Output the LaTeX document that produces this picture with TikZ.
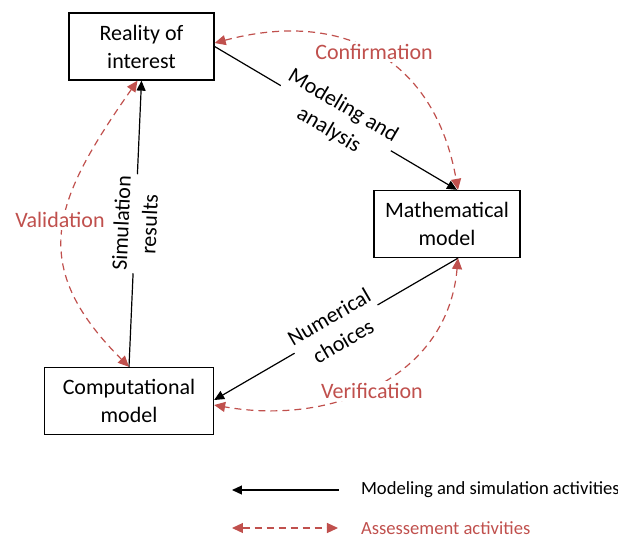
\documentclass[tikz,border=0pt]{standalone}
\usepackage{fontspec}
\setmainfont{Carlito}
\usetikzlibrary{arrows.meta}
\definecolor{assessred}{RGB}{192,80,77}

\begin{document}
\begin{tikzpicture}[x=0.5pt, y=-0.5pt, font=\fontsize{11}{14}\selectfont,
    box/.style={draw, line width=0.65pt, align=center, minimum height=33.5pt, inner sep=2pt},
    act/.style={line width=0.6pt, -{Triangle[length=5pt, width=4.5pt]}},
    assessarc/.style={draw=assessred, line width=0.6pt, dash pattern=on 3.5pt off 2.5pt,
        {Triangle[length=5.5pt, width=5pt]}-{Triangle[length=5.5pt, width=5pt]}},
    lbl/.style={sloped, fill=white, align=center, inner sep=1pt},
    assesslbl/.style={text=assessred, fill=white, inner sep=1pt}]
    \useasboundingbox (0,0) rectangle (618,538);

    % boxes
    \node[box, minimum width=72.5pt] (reality) at (141.5,46.5) {Reality of\\interest};
    \node[box, minimum width=73pt] (math) at (447,224) {Mathematical\\model};
    \node[box, minimum width=84.5pt] (comp) at (129,401) {Computational\\model};

    % modeling and simulation activities
    \draw[act] (reality.east) -- node[lbl] (modlbl) {Modeling and\\analysis} ([xshift=5pt]math.north);
    \draw[act] ([xshift=5.5pt]math.south) -- node[lbl] (numlbl) {Numerical\\choices} ([yshift=0.5pt]comp.east);
    \draw[act] (comp.north) -- node[lbl] (simlbl) {Simulation\\results} (reality.south);

    % assessment activities
    \draw[assessarc] ([yshift=1.75pt]reality.east) to[out=15, in=100, looseness=1.2] ([xshift=5.5pt]math.north);
    \draw[assessarc] ([xshift=-2pt]reality.south) to[out=235, in=135, looseness=1.3] (comp.north);
    \draw[assessarc] ([xshift=5.5pt]math.south) to[out=265, in=-10, looseness=1.08] ([yshift=-2pt]comp.east);
    \node[assesslbl] (conf) at (374,52) {Confirmation};
    \node[assesslbl] (valid) at (60,220) {Validation};
    \node[assesslbl] (verif) at (372,391) {Verification};

    % legend
    \coordinate (leg1s) at (339,490);
    \coordinate (leg1e) at (232,490);
    \coordinate (leg2s) at (232,528);
    \coordinate (leg2e) at (338,528);
    \draw[act] (leg1s) -- (leg1e);
    \draw[assessarc] (leg2s) -- (leg2e);
    \node[anchor=west, font=\fontsize{9.3}{11}\selectfont] (leg1) at (354,490) {Modeling and simulation activities};
    \node[anchor=west, font=\fontsize{9.3}{11}\selectfont, text=assessred] (leg2) at (354,528) {Assessement activities};
\end{tikzpicture}
\end{document}
